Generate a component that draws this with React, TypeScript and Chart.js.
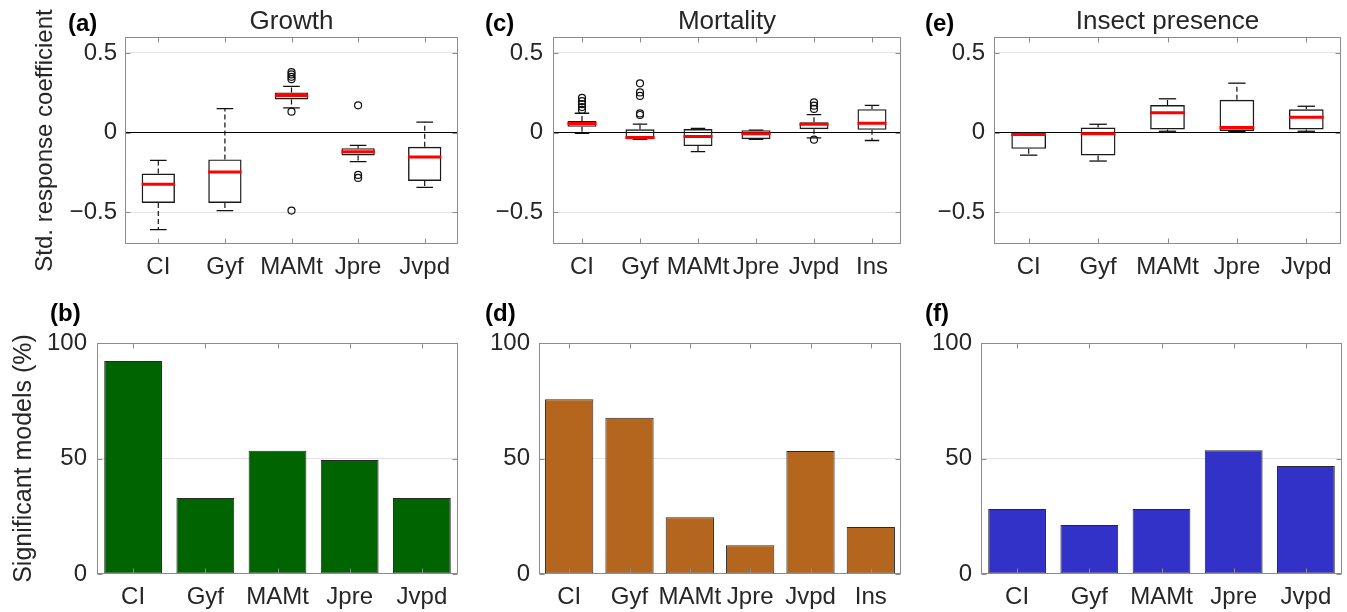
import React, { useEffect, useRef } from "react";
import { Chart, registerables } from "chart.js";

Chart.register(...registerables);

const PAGE_W = 1347;
const PAGE_H = 612;
const CANVAS_W = PAGE_W + 60;
const CANVAS_H = PAGE_H + 60;
const FONT = "'Liberation Sans', Arial, Helvetica, sans-serif";
const TEXT = "#262626";
const FRAME = "#8c8c8c";
const GRID = "#e2e2e2";

// ---------- (a) Growth: boxplot statistics ----------
const growthCats = ["CI", "Gyf", "MAMt", "Jpre", "Jvpd"];
const growthLow = [-0.61, -0.49, 0.155, -0.183, -0.344];
const growthQ1 = [-0.442, -0.442, 0.208, -0.144, -0.304];
const growthMed = [-0.325, -0.248, 0.233, -0.121, -0.154];
const growthQ3 = [-0.258, -0.169, 0.252, -0.098, -0.09];
const growthHigh = [-0.175, 0.15, 0.29, -0.081, 0.065];
const growthOutliers = [[], [], [0.38, 0.365, 0.35, 0.335, 0.131, -0.49], [0.171, -0.266, -0.285], []];

// ---------- (c) Mortality: boxplot statistics ----------
const mortCats = ["CI", "Gyf", "MAMt", "Jpre", "Jvpd", "Ins"];
const mortLow = [-0.005, -0.042, -0.12, -0.042, -0.033, -0.05];
const mortQ1 = [0.036, -0.042, -0.085, -0.042, 0.021, 0.017];
const mortMed = [0.057, -0.031, -0.025, -0.008, 0.052, 0.059];
const mortQ3 = [0.072, 0.02, 0.022, 0.015, 0.065, 0.147];
const mortHigh = [0.121, 0.053, 0.026, 0.015, 0.112, 0.171];
const mortOutliers = [[0.218, 0.197, 0.178, 0.16, 0.142], [0.309, 0.252, 0.23, 0.12, 0.11], [], [], [0.19, 0.169, 0.148, -0.045], []];

// ---------- (e) Insect presence: boxplot statistics ----------
const insCats = ["CI", "Gyf", "MAMt", "Jpre", "Jvpd"];
const insLow = [-0.142, -0.179, 0.008, 0.006, 0.008];
const insQ1 = [-0.102, -0.144, 0.019, 0.01, 0.019];
const insMed = [-0.012, -0.008, 0.125, 0.031, 0.096];
const insQ3 = [-0.002, 0.031, 0.173, 0.206, 0.146];
const insHigh = [-0.002, 0.052, 0.212, 0.31, 0.165];
const insOutliers = [[], [], [], [], []];

// ---------- bottom row: significant models (%) ----------
const growthSig = [92.2, 32.9, 53.4, 49.4, 32.9];
const mortSig = [75.7, 67.6, 24.6, 12.4, 53.2, 20.4];
const insSig = [28.1, 21.2, 28.1, 53.6, 46.8];

// ---------- tick labels ----------
const boxYTicks = [-0.5, 0, 0.5];
const boxYTickLabels = ["\u22120.5", "0", "0.5"];
const barYTicks = [0, 50, 100];
const barYTickLabels = ["0", "50", "100"];

type Area = { l: number; t: number; r: number; b: number };

const decorPlugin = {
  id: "panelDecor",
  afterDraw(chart: any, _args: any, opts: any) {
    const { ctx, chartArea: a } = chart;
    const xs = chart.scales.x;
    const ys = chart.scales.y;
    ctx.save();
    ctx.strokeStyle = FRAME;
    ctx.lineWidth = 1;
    const L = Math.round(a.left) + 0.5;
    const R = Math.round(a.right) - 0.5;
    const T = Math.round(a.top) + 0.5;
    const B = Math.round(a.bottom) - 0.5;
    ctx.strokeRect(L, T, R - L, B - T);
    ctx.beginPath();
    xs.ticks.forEach((_t: any, i: number) => {
      const x = Math.round(xs.getPixelForTick(i)) + 0.5;
      ctx.moveTo(x, B);
      ctx.lineTo(x, B - 5);
      ctx.moveTo(x, T);
      ctx.lineTo(x, T + 5);
    });
    ys.ticks.forEach((t: any) => {
      const y = Math.round(ys.getPixelForValue(t.value)) + 0.5;
      ctx.moveTo(L, y);
      ctx.lineTo(L + 5, y);
      ctx.moveTo(R, y);
      ctx.lineTo(R - 5, y);
    });
    ctx.stroke();
    if (opts && opts.letter) {
      ctx.fillStyle = "#000";
      ctx.font = `bold 24px ${FONT}`;
      ctx.textBaseline = "middle";
      ctx.textAlign = "left";
      ctx.fillText(opts.letter, opts.lx, opts.ly);
    }
    ctx.restore();
  },
};

const TITLE_SIZE = 26;
const TITLE_H = TITLE_SIZE * 1.2;

function baseXScale(hx: number) {
  return {
    offset: true,
    grid: { display: false, drawTicks: false },
    border: { display: false },
    ticks: {
      font: { family: FONT, size: 24 },
      color: TEXT,
      padding: 9,
      maxRotation: 0,
      autoSkip: false,
    },
    afterFit: (s: any) => {
      s.height = hx;
      s.paddingLeft = 0;
      s.paddingRight = 0;
    },
  };
}

function boxConfig(spec: {
  cats: string[];
  low: number[];
  q1: number[];
  med: number[];
  q3: number[];
  high: number[];
  outliers: number[][];
  area: Area;
  wy: number;
  ylabel?: string;
  ylabelPad?: number;
  tickPad: number;
  title: string;
  letter: string;
  lx: number;
  ly: number;
}) {
  const { cats, low, q1, med, q3, high, outliers, area } = spec;
  const n = cats.length;
  const hx = 40;
  const catW = (chart: any) =>
    chart.chartArea ? (chart.chartArea.right - chart.chartArea.left) / n : 60;

  const whiskers: any[] = [];
  const caps: any[] = [];
  const outs: any[] = [];
  cats.forEach((c, i) => {
    whiskers.push({ x: c, y: q3[i] }, { x: c, y: high[i] }, { x: c, y: null });
    whiskers.push({ x: c, y: q1[i] }, { x: c, y: low[i] }, { x: c, y: null });
    caps.push({ x: c, y: high[i] }, { x: c, y: low[i] });
    outliers[i].forEach((v) => outs.push({ x: c, y: v }));
  });

  return {
    type: "bar",
    data: {
      labels: cats,
      datasets: [
        {
          type: "line",
          label: "median",
          data: med,
          showLine: false,
          pointStyle: "line",
          pointRadius: (ctx: any) => catW(ctx.chart) * 0.25,
          pointBorderWidth: 3,
          pointBorderColor: "#ff0000",
          borderColor: "#ff0000",
          order: 0,
        },
        {
          type: "line",
          label: "caps",
          data: caps,
          showLine: false,
          pointStyle: "line",
          pointRadius: (ctx: any) => catW(ctx.chart) * 0.125,
          pointBorderWidth: 1.3,
          pointBorderColor: "#111",
          borderColor: "#111",
          order: 1,
        },
        {
          type: "line",
          label: "outliers",
          data: outs,
          showLine: false,
          pointStyle: "circle",
          pointRadius: 3.5,
          pointBorderWidth: 1.2,
          pointBorderColor: "#111",
          pointBackgroundColor: "rgba(0,0,0,0)",
          borderColor: "#111",
          order: 2,
        },
        {
          type: "bar",
          label: "box",
          data: cats.map((_c, i) => [q1[i], q3[i]]),
          backgroundColor: "rgba(0,0,0,0)",
          borderColor: "#1a1a1a",
          borderWidth: 1.4,
          borderSkipped: false,
          barPercentage: 0.5,
          categoryPercentage: 1,
          order: 3,
        },
        {
          type: "line",
          label: "whiskers",
          data: whiskers,
          borderColor: "#111",
          borderWidth: 1.2,
          borderDash: [5, 3],
          pointRadius: 0,
          spanGaps: false,
          fill: false,
          order: 4,
        },
      ],
    },
    options: {
      responsive: false,
      animation: false,
      devicePixelRatio: 1,
      events: [],
      layout: {
        padding: {
          left: area.l - spec.wy,
          right: CANVAS_W - area.r,
          top: area.t - TITLE_H,
          bottom: CANVAS_H - area.b - hx,
        },
      },
      plugins: {
        legend: { display: false },
        tooltip: { enabled: false },
        title: {
          display: true,
          text: spec.title,
          fullSize: false,
          color: TEXT,
          font: { family: FONT, size: TITLE_SIZE, weight: "normal", lineHeight: 1.2 },
          padding: 0,
        },
        panelDecor: { letter: spec.letter, lx: spec.lx, ly: spec.ly },
      },
      scales: {
        x: baseXScale(hx),
        y: {
          min: -0.7,
          max: 0.6,
          afterBuildTicks: (s: any) => {
            s.ticks = boxYTicks.map((v) => ({ value: v }));
          },
          afterFit: (s: any) => {
            s.width = spec.wy;
          },
          border: { display: false },
          grid: {
            drawTicks: false,
            lineWidth: 1,
            color: (ctx: any) => (ctx.tick && ctx.tick.value === 0 ? "#000" : GRID),
          },
          ticks: {
            font: { family: FONT, size: 24 },
            color: TEXT,
            padding: spec.tickPad,
            callback: (_v: any, i: number) => boxYTickLabels[i],
          },
          title: {
            display: !!spec.ylabel,
            text: spec.ylabel || "",
            color: TEXT,
            font: { family: FONT, size: 24, lineHeight: 1.2 },
            padding: { top: spec.ylabelPad || 0, bottom: 0 },
          },
        },
      },
    },
    plugins: [decorPlugin],
  };
}

function barConfig(spec: {
  cats: string[];
  values: number[];
  color: string;
  area: Area;
  wy: number;
  ylabel?: string;
  ylabelPad?: number;
  tickPad: number;
  letter: string;
  lx: number;
  ly: number;
}) {
  const { area } = spec;
  const hx = 38;
  return {
    type: "bar",
    data: {
      labels: spec.cats,
      datasets: [
        {
          label: "Significant models (%)",
          data: spec.values,
          backgroundColor: spec.color,
          borderColor: "#2a2a2a",
          borderWidth: 1,
          borderSkipped: false,
          barPercentage: 0.8,
          categoryPercentage: 1,
        },
      ],
    },
    options: {
      responsive: false,
      animation: false,
      devicePixelRatio: 1,
      events: [],
      layout: {
        padding: {
          left: area.l - spec.wy,
          right: CANVAS_W - area.r,
          top: area.t,
          bottom: CANVAS_H - area.b - hx,
        },
      },
      plugins: {
        legend: { display: false },
        tooltip: { enabled: false },
        panelDecor: { letter: spec.letter, lx: spec.lx, ly: spec.ly },
      },
      scales: {
        x: baseXScale(hx),
        y: {
          min: 0,
          max: 100,
          afterBuildTicks: (s: any) => {
            s.ticks = barYTicks.map((v) => ({ value: v }));
          },
          afterFit: (s: any) => {
            s.width = spec.wy;
          },
          border: { display: false },
          grid: {
            drawTicks: false,
            lineWidth: 1,
            color: (ctx: any) => (ctx.tick && ctx.tick.value === 50 ? GRID : "rgba(0,0,0,0)"),
          },
          ticks: {
            font: { family: FONT, size: 24 },
            color: TEXT,
            padding: spec.tickPad,
            callback: (_v: any, i: number) => barYTickLabels[i],
          },
          title: {
            display: !!spec.ylabel,
            text: spec.ylabel || "",
            color: TEXT,
            font: { family: FONT, size: 25, lineHeight: 1.2 },
            padding: { top: spec.ylabelPad || 0, bottom: 0 },
          },
        },
      },
    },
    plugins: [decorPlugin],
  };
}

const configs = [
  () =>
    boxConfig({
      cats: growthCats, low: growthLow, q1: growthQ1, med: growthMed, q3: growthQ3, high: growthHigh,
      outliers: growthOutliers,
      area: { l: 125, t: 37, r: 458, b: 244 },
      wy: 125, ylabel: "Std. response coefficient", ylabelPad: 30.6, tickPad: 8,
      title: "Growth", letter: "(a)", lx: 68, ly: 24,
    }),
  () =>
    boxConfig({
      cats: mortCats, low: mortLow, q1: mortQ1, med: mortMed, q3: mortQ3, high: mortHigh,
      outliers: mortOutliers,
      area: { l: 553, t: 37, r: 901, b: 244 },
      wy: 60, tickPad: 10,
      title: "Mortality", letter: "(c)", lx: 485, ly: 24,
    }),
  () =>
    boxConfig({
      cats: insCats, low: insLow, q1: insQ1, med: insMed, q3: insQ3, high: insHigh,
      outliers: insOutliers,
      area: { l: 994, t: 37, r: 1341, b: 244 },
      wy: 60, tickPad: 9,
      title: "Insect presence", letter: "(e)", lx: 925, ly: 24,
    }),
  () =>
    barConfig({
      cats: growthCats, values: growthSig, color: "#006400",
      area: { l: 97, t: 343, r: 458, b: 574 },
      wy: 97, ylabel: "Significant models (%)", ylabelPad: 9, tickPad: 10,
      letter: "(b)", lx: 50, ly: 314,
    }),
  () =>
    barConfig({
      cats: mortCats, values: mortSig, color: "#b4651e",
      area: { l: 539, t: 343, r: 901, b: 574 },
      wy: 60, tickPad: 9,
      letter: "(d)", lx: 485, ly: 314,
    }),
  () =>
    barConfig({
      cats: insCats, values: insSig, color: "#3232c8",
      area: { l: 981, t: 343, r: 1342, b: 574 },
      wy: 60, tickPad: 9,
      letter: "(f)", lx: 925, ly: 314,
    }),
];

export default function App() {
  const canvases = useRef<(HTMLCanvasElement | null)[]>([]);

  useEffect(() => {
    document.body.style.margin = "0";
    const charts = configs.map((make, i) => new Chart(canvases.current[i] as HTMLCanvasElement, make() as any));
    return () => {
      charts.forEach((c) => c.destroy());
    };
  }, []);

  return (
    <div
      style={{
        position: "absolute",
        left: 0,
        top: 0,
        width: PAGE_W,
        height: PAGE_H,
        background: "#fff",
        overflow: "hidden",
      }}
    >
      {configs.map((_m, i) => (
        <canvas
          key={i}
          ref={(el) => {
            canvases.current[i] = el;
          }}
          width={CANVAS_W}
          height={CANVAS_H}
          style={{ position: "absolute", left: 0, top: 0, pointerEvents: "none" }}
        />
      ))}
    </div>
  );
}
